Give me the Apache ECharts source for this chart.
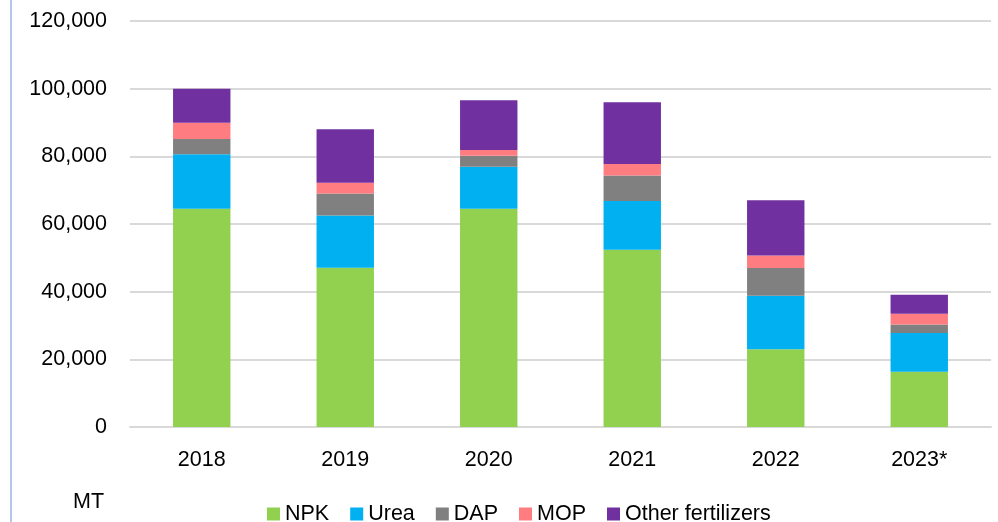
<!DOCTYPE html>
<html>
<head>
<meta charset="utf-8">
<script src="https://cdn.jsdelivr.net/npm/echarts@6/dist/echarts.min.js"></script>
<style>
	html, body { margin: 0; padding: 0; background: #fff; }
	#chart { width: 998px; height: 522px; }
</style>
</head>
<body>
<div id="chart"></div>
<script>
var years = ['2018', '2019', '2020', '2021', '2022', '2023*']
var npk = [64500, 47100, 64500, 52400, 23000, 16300]
var urea = [16100, 15400, 12400, 14400, 15800, 11500]
var dap = [4500, 6500, 3300, 7500, 8200, 2500]
var mop = [4800, 3200, 1700, 3400, 3700, 3200]
var other = [10100, 15800, 14700, 18300, 16300, 5600]
var yTicks = [0, 20000, 40000, 60000, 80000, 100000, 120000]

var font = 'Liberation Sans, Arial, sans-serif'

makeSeries = (name, data, color) => {
	return {
		name: name,
		type: 'bar',
		stack: 'total',
		barWidth: '40%',
		data: data,
		itemStyle: { color: color },
	}
}

$chart = echarts.init(document.getElementById('chart'))

var option = {
	animation: false,
	textStyle: { fontFamily: font },
	grid: { left: 130, right: 7, top: 21, bottom: 95, containLabel: false },
	legend: {
		left: 262,
		top: 498,
		itemWidth: 13,
		itemHeight: 13,
		itemGap: 21,
		icon: 'rect',
		textStyle: { fontSize: 21.5, color: '#000', fontFamily: font },
		data: ['NPK', 'Urea', 'DAP', 'MOP', 'Other fertilizers'],
	},
	xAxis: {
		type: 'category',
		data: years,
		axisTick: { show: false },
		axisLine: { lineStyle: { color: '#d9d9d9', width: 2 } },
		axisLabel: { fontSize: 21.5, color: '#000', margin: 22, fontFamily: font },
	},
	yAxis: {
		type: 'value',
		min: yTicks[0],
		max: yTicks[yTicks.length - 1],
		interval: 20000,
		axisLine: { show: false },
		axisTick: { show: false },
		splitLine: { lineStyle: { color: '#d9d9d9', width: 2 } },
		axisLabel: {
			fontSize: 21.5,
			color: '#000',
			margin: 23,
			fontFamily: font,
			formatter: (v) => v.toLocaleString('en-US'),
		},
	},
	graphic: [
		{
			type: 'rect',
			shape: { x: 10, y: 0, width: 2, height: 522 },
			style: { fill: '#b4c7e7' },
		},
		{
			type: 'text',
			left: 73,
			top: 491,
			style: { text: 'MT', fontSize: 21.5, fill: '#000', fontFamily: font },
		},
	],
	series: [
		makeSeries('NPK', npk, '#92d050'),
		makeSeries('Urea', urea, '#00b0f0'),
		makeSeries('DAP', dap, '#808080'),
		makeSeries('MOP', mop, '#ff7c80'),
		makeSeries('Other fertilizers', other, '#7030a0'),
	],
}

$chart.setOption(option)
</script>
</body>
</html>
